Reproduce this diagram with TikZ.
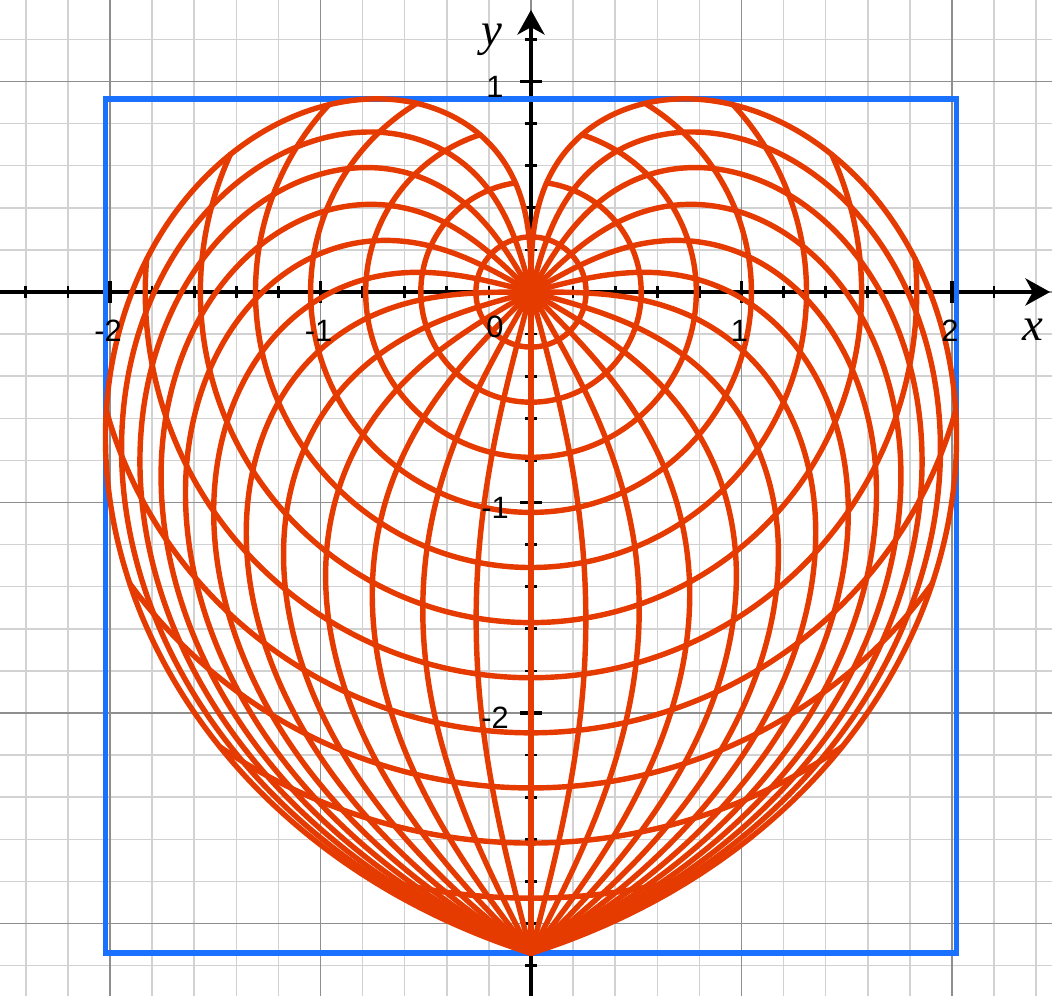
\documentclass[tikz,border=0pt]{standalone}
\usepackage{fontspec}
\setmainfont{Liberation Serif}
\setsansfont{Liberation Sans}
\usetikzlibrary{arrows.meta}
\definecolor{gridMinor}{HTML}{D2D2D2}
\definecolor{gridMajor}{HTML}{8E8E8E}
\definecolor{heartRed} {HTML}{E53A00}
\definecolor{boxBlue}  {HTML}{1A70FF}

\begin{document}
\begin{tikzpicture}[x=3cm, y=3cm,
    axis/.style={line width=1.5pt, -{Stealth[length=10pt, width=11pt, inset=3pt]}},
    minortick/.style={line width=1.1pt},
    majortick/.style={line width=1.5pt},
    ticklabel/.style={font=\sffamily\fontsize{12.5}{14}\selectfont, inner sep=0pt},
    axislabel/.style={font=\itshape\fontsize{19}{21}\selectfont, inner sep=0pt},
    graticule/.style={draw=heartRed, line width=2.2pt, line cap=round, line join=round},
  ]
  \useasboundingbox (-2.5226,-3.3444) rectangle (2.4751,1.3872);
  \clip (-2.5226,-3.3444) rectangle (2.4751,1.3872);
  \draw[gridMinor, line width=0.6pt] (-2.6,-3.4) grid[step=0.2] (2.6,1.4);
  \draw[gridMajor, line width=0.6pt] (-3,-4) grid[step=1] (3,2);
  \coordinate (xstart) at (-2.6,0);
  \coordinate (xtip) at (2.466,0);
  \coordinate (ystart) at (0,-3.4);
  \coordinate (ytip) at (0,1.34);
  \draw[axis] (xstart) -- (xtip);
  \draw[axis] (ystart) -- (ytip);
  \foreach \t in {-12,...,12}
    \draw[minortick] (\t/5,-0.028) -- (\t/5,0.028);
  \foreach \t in {-16,...,6}
    \draw[minortick] (-0.028,\t/5) -- (0.028,\t/5);
  \foreach \t in {-2,...,2}
    \draw[majortick] (\t,-0.052) -- (\t,0.052);
  \foreach \t in {-2,-1,1}
    \draw[majortick] (-0.052,\t) -- (0.052,\t);
  \coordinate (boxSW) at (-2.0217,-3.14159);
  \coordinate (boxNE) at (2.0217,0.9177);
  \draw[boxBlue, line width=2.3pt] (boxSW) rectangle (boxNE);
  % meridians and parallels, every 15 degrees
  \foreach \lam in {-180,-165,...,180}
    \draw[graticule] plot[domain=0.001:3.14159, samples=120, smooth]
      ({\x*sin(\lam*sin(\x r)/\x)}, {-\x*cos(\lam*sin(\x r)/\x)});
  \foreach \k in {1,...,11}{
    \pgfmathsetmacro\rho{\k*pi/12}
    \pgfmathsetmacro\emax{180*sin(\rho r)/\rho}
    \draw[graticule] plot[domain=-\emax:\emax, samples=100, smooth]
      ({\rho*sin(\x)}, {-\rho*cos(\x)});
  }
  \node[ticklabel] (lxm2) at (-2.0095,-0.185) {-2};
  \node[ticklabel] (lxm1) at (-1.0095,-0.185) {-1};
  \node[ticklabel] (lx0)  at (-0.171,-0.166) {0};
  \node[ticklabel] (lx1)  at (0.9905,-0.185) {1};
  \node[ticklabel] (lx2)  at (1.9905,-0.185) {2};
  \node[ticklabel] (ly1)  at (-0.171,0.976) {1};
  \node[ticklabel] (lym1) at (-0.171,-1.024) {-1};
  \node[ticklabel] (lym2) at (-0.171,-2.024) {-2};
  \node[axislabel] (xlab) at (2.385,-0.181) {x};
  \node[axislabel] (ylab) at (-0.185,1.197) {y};
\end{tikzpicture}
\end{document}
